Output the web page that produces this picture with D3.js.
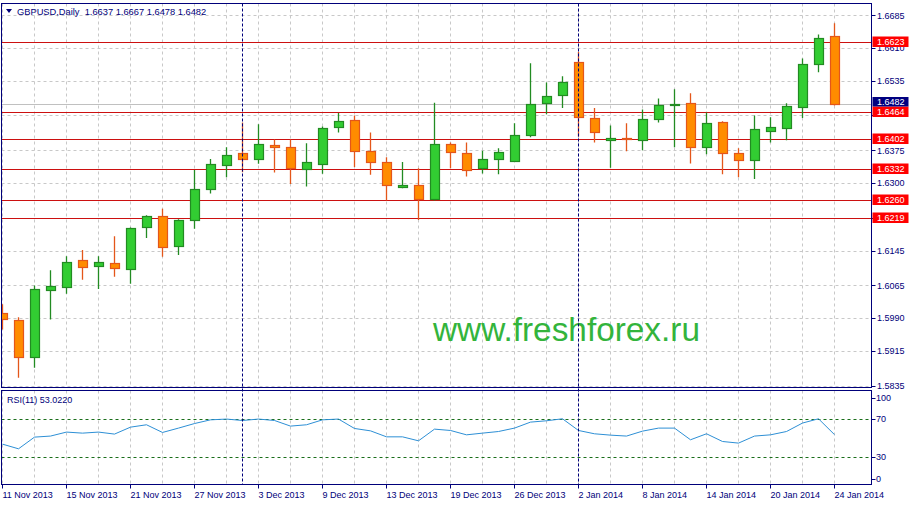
<!DOCTYPE html>
<html><head><meta charset="utf-8">
<script src="https://cdn.jsdelivr.net/npm/d3@7"></script>
<style>
body{margin:0;background:#fff}
svg{display:block}
text{font-family:'Liberation Sans',Arial,sans-serif}
</style>
</head><body>
<svg id="c" width="913" height="505"></svg>
<script>
// ---------- data ----------
const symbol = "GBPUSD,Daily";
const dates = [
 "11 Nov 2013","12 Nov 2013","13 Nov 2013","14 Nov 2013","15 Nov 2013","18 Nov 2013","19 Nov 2013","20 Nov 2013","21 Nov 2013","22 Nov 2013",
 "25 Nov 2013","26 Nov 2013","27 Nov 2013","28 Nov 2013","29 Nov 2013","2 Dec 2013","3 Dec 2013","4 Dec 2013","5 Dec 2013","6 Dec 2013",
 "9 Dec 2013","10 Dec 2013","11 Dec 2013","12 Dec 2013","13 Dec 2013","16 Dec 2013","17 Dec 2013","18 Dec 2013","19 Dec 2013","20 Dec 2013",
 "23 Dec 2013","24 Dec 2013","26 Dec 2013","27 Dec 2013","30 Dec 2013","31 Dec 2013","2 Jan 2014","3 Jan 2014","6 Jan 2014","7 Jan 2014",
 "8 Jan 2014","9 Jan 2014","10 Jan 2014","13 Jan 2014","14 Jan 2014","15 Jan 2014","16 Jan 2014","17 Jan 2014","20 Jan 2014","21 Jan 2014",
 "22 Jan 2014","23 Jan 2014","24 Jan 2014"];
const openP = [
 1.6001,1.5985,1.5901,1.6054,1.6062,1.6123,1.6109,1.6116,1.6102,1.6198,
 1.6224,1.6155,1.6214,1.6286,1.6341,1.6368,1.6354,1.6387,1.6382,1.6332,
 1.6344,1.6428,1.6444,1.6373,1.6348,1.6292,1.6295,1.6263,1.6389,1.6368,
 1.6334,1.6354,1.6350,1.6410,1.6483,1.6501,1.6577,1.6449,1.6398,1.6403,
 1.6398,1.6446,1.6478,1.6483,1.6382,1.6439,1.6368,1.6352,1.6419,1.6426,
 1.6474,1.6573,1.6637];
const highP = [
 1.6022,1.5992,1.6065,1.6100,1.6132,1.6146,1.6132,1.6178,1.6198,1.6226,
 1.6241,1.6217,1.6330,1.6355,1.6382,1.6439,1.6435,1.6400,1.6400,1.6391,
 1.6430,1.6461,1.6455,1.6416,1.6359,1.6348,1.6334,1.6484,1.6393,1.6393,
 1.6374,1.6380,1.6437,1.6575,1.6531,1.6545,1.6601,1.6472,1.6432,1.6437,
 1.6469,1.6494,1.6515,1.6506,1.6462,1.6442,1.6380,1.6455,1.6451,1.6483,
 1.6586,1.6641,1.6667];
const lowP = [
 1.5964,1.5853,1.5876,1.5987,1.6046,1.6078,1.6057,1.6085,1.6069,1.6174,
 1.6131,1.6135,1.6195,1.6276,1.6313,1.6325,1.6344,1.6324,1.6298,1.6292,
 1.6321,1.6416,1.6337,1.6319,1.6260,1.6288,1.6215,1.6260,1.6334,1.6315,
 1.6322,1.6320,1.6348,1.6405,1.6458,1.6472,1.6407,1.6393,1.6335,1.6373,
 1.6375,1.6439,1.6382,1.6345,1.6366,1.6320,1.6313,1.6309,1.6393,1.6398,
 1.6449,1.6554,1.6478];
const closeP = [
 1.5987,1.5901,1.6056,1.6064,1.6118,1.6107,1.6118,1.6104,1.6196,1.6224,
 1.6152,1.6214,1.6286,1.6343,1.6364,1.6354,1.6389,1.6382,1.6334,1.6348,
 1.6426,1.6442,1.6373,1.6348,1.6295,1.6295,1.6263,1.6389,1.6371,1.6329,
 1.6354,1.6371,1.6410,1.6481,1.6499,1.6533,1.6451,1.6416,1.6403,1.6400,
 1.6446,1.6478,1.6481,1.6382,1.6437,1.6368,1.6352,1.6423,1.6428,1.6476,
 1.6573,1.6634,1.6482];
const rsiVals = [
 43.0,38.1,50.4,51.5,55.7,54.6,55.7,53.6,60.9,63.4,
 55.3,59.9,64.7,68.6,69.4,67.9,69.4,67.9,62.0,63.4,
 68.6,69.4,59.5,57.0,50.7,50.7,46.5,58.8,57.4,52.8,
 54.6,56.3,59.9,66.2,67.6,69.7,57.4,53.9,52.5,51.5,
 56.7,59.9,59.9,47.6,53.9,45.8,44.1,51.5,52.8,56.3,
 65.2,69.7,53.022];
const priceTicks = [1.6685,1.6610,1.6535,1.6455,1.6375,1.6300,1.6220,1.6145,1.6065,1.5990,1.5915,1.5835];
const levelLines = [1.6623,1.6464,1.6402,1.6332,1.6260,1.6219];
const timeTicks = ["11 Nov 2013","15 Nov 2013","21 Nov 2013","27 Nov 2013","3 Dec 2013","9 Dec 2013","13 Dec 2013",
 "19 Dec 2013","26 Dec 2013","2 Jan 2014","8 Jan 2014","14 Jan 2014","20 Jan 2014","24 Jan 2014"];
const gridDates = dates.filter((d,i)=>i%2===0);
const separators = ["2 Dec 2013","2 Jan 2014"];
const rsiTicks = [100,70,30,0];
const rsiLevels = [70,30];
const watermark = "www.freshforex.ru";

// ---------- layout ----------
const L = 1.5, R = 871.5;
const mainTop = 3.5, mainBot = 387.5;
const rsiTop = 390.5, rsiBot = 484.5;
const navy = "#00007a";
const svg = d3.select("#c");

const x = d3.scalePoint().domain(dates).range([2.5, 2.5 + 16*(dates.length-1)]);
const y = d3.scaleLinear().domain([1.58295, 1.67132]).range([388, 3]);
const yr = d3.scaleLinear().domain([0,100]).range([485, 390]);

svg.append("rect").attr("width",913).attr("height",505).attr("fill","#fff");

const defs = svg.append("defs");
defs.append("clipPath").attr("id","cm").append("rect")
  .attr("x",L).attr("y",mainTop).attr("width",R-L).attr("height",mainBot-mainTop);
defs.append("clipPath").attr("id","cr").append("rect")
  .attr("x",L).attr("y",rsiTop).attr("width",R-L).attr("height",rsiBot-rsiTop);

const gm = svg.append("g").attr("clip-path","url(#cm)");
const gr = svg.append("g").attr("clip-path","url(#cr)");
const gridCol = "#c8c8c8";

// vertical grid
[gm, gr].forEach((g,k)=>{
  g.selectAll("line.vg").data(gridDates).join("line")
   .attr("x1",d=>x(d)).attr("x2",d=>x(d))
   .attr("y1",k?rsiTop:mainTop).attr("y2",k?rsiBot:mainBot)
   .attr("stroke",gridCol).attr("stroke-dasharray","3,3");
});
// horizontal grid
gm.selectAll("line.hg").data(priceTicks).join("line")
  .attr("x1",L).attr("x2",R)
  .attr("y1",d=>Math.round(y(d))+0.5).attr("y2",d=>Math.round(y(d))+0.5)
  .attr("stroke",gridCol).attr("stroke-dasharray","3,3");

// bid line
const last = closeP.length-1;
gm.append("line").attr("x1",L).attr("x2",R)
  .attr("y1",Math.round(y(closeP[last]))+0.5).attr("y2",Math.round(y(closeP[last]))+0.5)
  .attr("stroke","#c0c0c0");

// level lines
gm.selectAll("line.lv").data(levelLines).join("line")
  .attr("x1",L).attr("x2",R)
  .attr("y1",d=>Math.round(y(d))+0.5).attr("y2",d=>Math.round(y(d))+0.5)
  .attr("stroke","#cc1010").attr("stroke-width",1.2);

// separators
svg.selectAll("line.sep").data(separators).join("line")
  .attr("x1",d=>x(d)).attr("x2",d=>x(d))
  .attr("y1",mainTop).attr("y2",rsiBot)
  .attr("stroke",navy).attr("stroke-dasharray","3,2");

// candles
const idx = d3.range(dates.length);
const up = i => closeP[i] >= openP[i];
const bullFill="#32cd32", bullLine="#228b22", bearFill="#ff8c00", bearLine="#e4561a";
gm.selectAll("line.wick").data(idx).join("line")
  .attr("x1",i=>x(dates[i])).attr("x2",i=>x(dates[i]))
  .attr("y1",i=>y(highP[i])).attr("y2",i=>y(lowP[i]))
  .attr("stroke",i=>up(i)?bullLine:bearLine).attr("stroke-width",1.3);
gm.selectAll("rect.body").data(idx).join("rect")
  .attr("x",i=>x(dates[i])-4)
  .attr("width",9)
  .attr("y",i=>Math.round(y(Math.max(openP[i],closeP[i])))+0.5)
  .attr("height",i=>Math.max(1,Math.round(y(Math.min(openP[i],closeP[i])))-Math.round(y(Math.max(openP[i],closeP[i])))))
  .attr("fill",i=>up(i)?bullFill:bearFill)
  .attr("stroke",i=>up(i)?bullLine:bearLine).attr("stroke-width",1.2);

// watermark
gm.append("text").attr("x",433).attr("y",341).text(watermark)
  .attr("font-family","'DejaVu Sans',Verdana,sans-serif").attr("font-size",33)
  .attr("textLength",267).attr("lengthAdjust","spacingAndGlyphs")
  .attr("fill","#33b43c");

// RSI
gr.selectAll("line.rl").data(rsiLevels).join("line")
  .attr("x1",L).attr("x2",R)
  .attr("y1",d=>Math.round(yr(d))+0.5).attr("y2",d=>Math.round(yr(d))+0.5)
  .attr("stroke","#1a6e1a").attr("stroke-dasharray","3,3");
gr.append("path").datum(idx)
  .attr("d",d3.line().x(i=>x(dates[i])).y(i=>yr(rsiVals[i])))
  .attr("fill","none").attr("stroke","#2d8fd5").attr("stroke-width",1);

// frames
svg.append("rect").attr("x",L).attr("y",mainTop).attr("width",R-L).attr("height",mainBot-mainTop)
  .attr("fill","none").attr("stroke",navy);
svg.append("rect").attr("x",L).attr("y",rsiTop).attr("width",R-L).attr("height",rsiBot-rsiTop)
  .attr("fill","none").attr("stroke",navy);

// right price axis
const axisG = svg.append("g");
const fs = 9;
const labelTicks = priceTicks.filter(t => !levelLines.some(l => Math.abs(l - t) < 0.0012));
axisG.selectAll("line.pt").data(priceTicks).join("line")
  .attr("x1",R).attr("x2",R+4)
  .attr("y1",d=>Math.round(y(d))+0.5).attr("y2",d=>Math.round(y(d))+0.5)
  .attr("stroke",navy);
axisG.selectAll("text.pt").data(labelTicks).join("text")
  .attr("x",877).attr("y",d=>y(d)+3.3).text(d=>d.toFixed(4))
  .attr("font-size",fs).attr("fill",navy);

// level labels
const lab = axisG.selectAll("g.lab").data(levelLines).join("g")
  .attr("transform",d=>`translate(0,${Math.round(y(d))})`);
lab.append("rect").attr("x",872.5).attr("y",-5.5).attr("width",36).attr("height",10.5).attr("fill","#ff0000");
lab.append("text").attr("x",877).attr("y",3.3).text(d=>d.toFixed(4)).attr("font-size",fs).attr("fill","#fff");

// current price label
const cp = axisG.append("g").attr("transform",`translate(0,${Math.round(y(closeP[last]))-2})`);
cp.append("rect").attr("x",872.5).attr("y",-5).attr("width",36).attr("height",9.5).attr("fill","#000080");
cp.append("text").attr("x",877).attr("y",3.3).text(closeP[last].toFixed(4)).attr("font-size",fs).attr("fill","#fff");

// RSI axis
const rsiLabY = v => Math.max(rsiTop+7, Math.min(rsiBot-6, yr(v)));
axisG.selectAll("line.rt").data(rsiTicks).join("line")
  .attr("x1",R).attr("x2",R+4)
  .attr("y1",d=>Math.round(rsiLabY(d))+0.5).attr("y2",d=>Math.round(rsiLabY(d))+0.5)
  .attr("stroke",navy);
axisG.selectAll("text.rt").data(rsiTicks).join("text")
  .attr("x",876).attr("y",d=>rsiLabY(d)+3.3).text(d=>d)
  .attr("font-size",fs).attr("fill",navy);

// time axis
axisG.selectAll("line.tt").data(timeTicks).join("line")
  .attr("x1",d=>x(d)).attr("x2",d=>x(d)).attr("y1",rsiBot).attr("y2",rsiBot+4)
  .attr("stroke",navy);
axisG.selectAll("text.tt").data(timeTicks).join("text")
  .attr("x",d=>x(d)).attr("y",497.5).text(d=>d)
  .attr("font-size",fs).attr("fill",navy);

// titles
svg.append("path").attr("d","M6,9 L12,9 L9,13 Z").attr("fill",navy);
svg.append("text").attr("x",17).attr("y",15)
  .text(`${symbol}  ${openP[last].toFixed(4)} ${highP[last].toFixed(4)} ${lowP[last].toFixed(4)} ${closeP[last].toFixed(4)}`)
  .attr("font-size",9.3).attr("fill",navy).style("white-space","pre");
svg.append("text").attr("x",7).attr("y",403)
  .text(`RSI(11) ${rsiVals[last].toFixed(4)}`)
  .attr("font-size",fs).attr("fill",navy);
</script>
</body></html>
